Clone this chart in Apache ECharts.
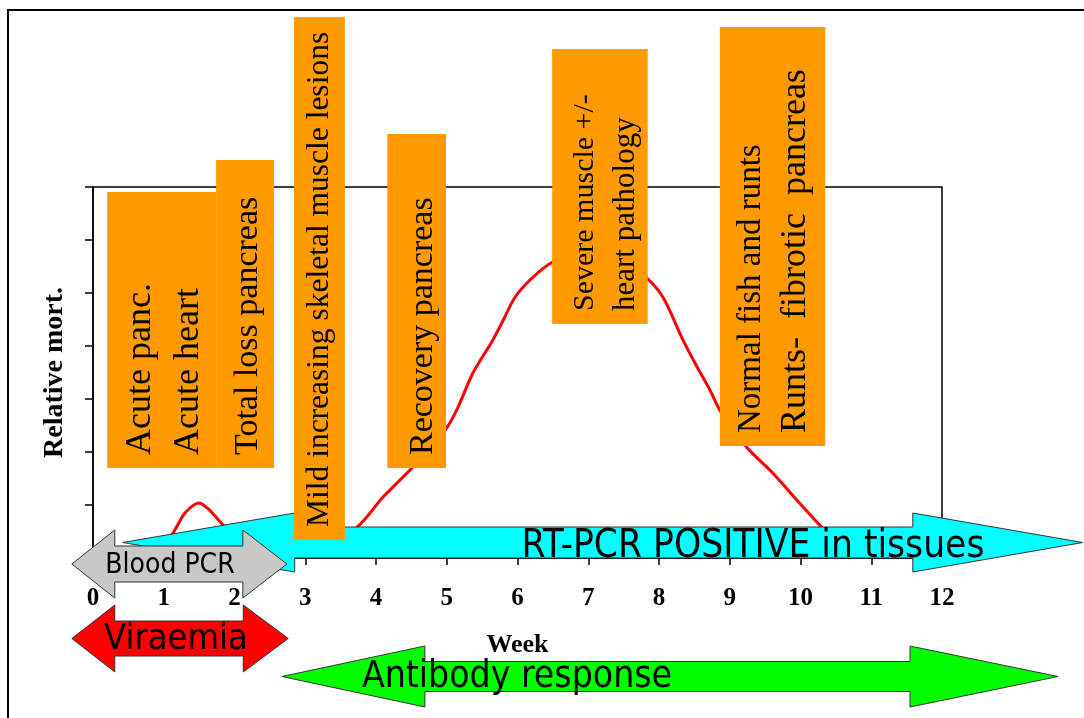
<!DOCTYPE html>
<html>
<head>
<meta charset="utf-8">
<script src="https://cdn.jsdelivr.net/npm/echarts@6/dist/echarts.min.js"></script>
<style>
html, body { margin: 0; padding: 0; background: #fff; }
#main { width: 1084px; height: 718px; }
</style>
</head>
<body>
<div id="main"></div>
<script>
// 相对死亡率曲线 (week, relative mortality)
var weeks = [0.9, 1.13, 1.3, 1.5, 1.65, 1.8, 2.1, 2.6, 3.2, 3.73, 4.10, 4.48, 4.98, 5.14, 5.37, 5.65, 5.80, 5.96, 6.18, 6.49, 6.8, 7.17, 7.5, 7.83, 8.06, 8.34, 8.54, 8.72, 8.86, 9.24, 9.61, 9.95, 10.30, 10.6];
var mortality = [0.1, 0.47, 0.85, 1.04, 0.9, 0.68, 0.3, 0.15, 0.15, 0.58, 1.15, 1.66, 2.42, 2.79, 3.49, 4.11, 4.49, 4.91, 5.25, 5.58, 5.70, 5.72, 5.6, 5.28, 4.91, 4.11, 3.60, 3.17, 2.79, 2.09, 1.60, 1.09, 0.58, 0.2];

// 病理阶段 (orange boxes), week range of each box
var phaseLines = [
    ['Acute panc.', 'Acute heart'],
    ['Total loss pancreas'],
    ['Mild increasing skeletal muscle lesions'],
    ['Recovery pancreas'],
    ['Severe muscle +/-', 'heart pathology'],
    ['Normal fish and runts', 'Runts-  fibrotic  pancreas']
];
var phaseWeeks = [[0.20, 1.74], [1.74, 2.56], [2.84, 3.56], [4.16, 4.99], [6.49, 7.84], [8.86, 10.35]];

// 检测箭头 (arrows), week range tip to tip
var arrowNames = ['RT-PCR POSITIVE in tissues', 'Blood PCR', 'Viraemia', 'Antibody response'];
var arrowWeeks = [[0.42, 13.99], [-0.30, 2.74], [-0.30, 2.76], [2.67, 13.64]];

// 布局 (layout only, pixels)
var boxLayout = [
    { top: 192, bottom: 468, lines: [33, 81], size: [36, 36] },
    { top: 160, bottom: 468, lines: [32], size: [34] },
    { top: 17, bottom: 540, lines: [26], size: [31.5] },
    { top: 134, bottom: 468, lines: [36], size: [34] },
    { top: 49, bottom: 324, lines: [33, 74], size: [30, 31] },
    { top: 27, bottom: 446, lines: [31, 76], size: [33, 36] }
];
var arrowLayout = [
    { cy: 542.5, head: 59, shaft: 31, headL: 172, headR: 170, color: '#00ffff', size: 38.5, textX: 753, textDy: 4, z: 10 },
    { cy: 564, head: 68, shaft: 36, headL: 43, headR: 44, color: '#c8c8c8', size: 28, textX: 170, textDy: 2, z: 12 },
    { cy: 638.5, head: 67, shaft: 35, headL: 43, headR: 45, color: '#ff0000', size: 36, textX: 176, textDy: 1, z: 12 },
    { cy: 676.5, head: 61, shaft: 30, headL: 143, headR: 148, color: '#00ff00', size: 37, textX: 517, textDy: 1, z: 12 }
];

var serif = 'Liberation Serif';
var sans = "'DejaVu Sans Condensed', 'DejaVu Sans'";

var chart = echarts.init(document.getElementById('main'));
chart.setOption({
    animation: false,
    grid: { left: 93, right: 142, top: 187, bottom: 160, show: true, borderColor: '#000', borderWidth: 1.5 },
    xAxis: {
        type: 'value', min: 0, max: 12, interval: 1,
        name: 'Week', nameLocation: 'middle', nameGap: 74,
        nameTextStyle: { fontFamily: serif, fontWeight: 'bold', fontSize: 26, color: '#000' },
        axisLine: { lineStyle: { color: '#000', width: 1.5 } },
        axisTick: { length: 7, lineStyle: { color: '#000', width: 1.5 } },
        axisLabel: { margin: 28, showMinLabel: true, showMaxLabel: true, fontFamily: serif, fontWeight: 'bold', fontSize: 25, color: '#000' },
        splitLine: { show: false }
    },
    yAxis: {
        type: 'value', min: 0, max: 7, interval: 1,
        name: 'Relative mort.', nameLocation: 'middle', nameGap: 24, nameRotate: 90,
        nameTextStyle: { fontFamily: serif, fontWeight: 'bold', fontSize: 28, color: '#000' },
        axisLine: { lineStyle: { color: '#000', width: 1.5 } },
        axisTick: { length: 8, lineStyle: { color: '#000', width: 1.5 } },
        axisLabel: { show: false },
        splitLine: { show: false }
    },
    series: [{
        type: 'line',
        data: weeks.map(function (w, i) { return [w, mortality[i]]; }),
        smooth: 0.3,
        showSymbol: false,
        lineStyle: { color: '#ff0000', width: 3 },
        z: 2
    }]
});

function px(w) {
    return chart.convertToPixel({ xAxisIndex: 0 }, w);
}

var elements = [];

// 外框
elements.push({ type: 'polyline', shape: { points: [[8, 718], [8, 10], [1084, 10]] }, style: { stroke: '#000', lineWidth: 2, fill: null }, z: 1 });

// 箭头
arrowNames.forEach(function (name, i) {
    var a = arrowLayout[i];
    var x1 = px(arrowWeeks[i][0]), x2 = px(arrowWeeks[i][1]);
    var b1 = x1 + a.headL, b2 = x2 - a.headR;
    var h = a.head / 2, s = a.shaft / 2;
    elements.push({
        type: 'polygon',
        shape: { points: [[x1, a.cy], [b1, a.cy - h], [b1, a.cy - s], [b2, a.cy - s], [b2, a.cy - h], [x2, a.cy],
            [b2, a.cy + h], [b2, a.cy + s], [b1, a.cy + s], [b1, a.cy + h]] },
        style: { fill: a.color, stroke: '#333', lineWidth: 1 },
        z: a.z
    });
    elements.push({
        type: 'text', x: a.textX, y: a.cy + a.textDy,
        style: { text: name, fontFamily: sans, fontSize: a.size, fill: '#000', align: 'center', verticalAlign: 'middle' },
        z: a.z + 1
    });
});

// 橙色说明框
phaseLines.forEach(function (lines, i) {
    var b = boxLayout[i];
    var x1 = px(phaseWeeks[i][0]), x2 = px(phaseWeeks[i][1]);
    elements.push({
        type: 'rect', shape: { x: x1, y: b.top, width: x2 - x1, height: b.bottom - b.top },
        style: { fill: '#ff9a00' }, z: 20
    });
    lines.forEach(function (t, j) {
        elements.push({
            type: 'text', x: x1 + b.lines[j], y: b.bottom - 13, rotation: Math.PI / 2,
            style: { text: t, fontFamily: serif, fontSize: b.size[j], fill: '#000', align: 'left', verticalAlign: 'middle' },
            z: 21
        });
    });
});

chart.setOption({ graphic: elements });
</script>
</body>
</html>
